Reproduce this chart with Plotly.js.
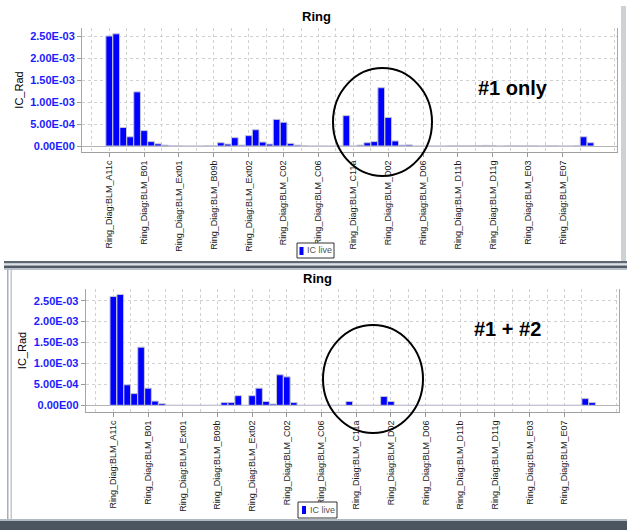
<!DOCTYPE html>
<html>
<head>
<meta charset="utf-8">
<script src="https://cdn.plot.ly/plotly-3.0.1.min.js"></script>
<style>html,body{margin:0;padding:0;background:#fff;}#chart{width:627px;height:530px;}</style>
</head>
<body>
<div id="chart"></div>
<script>
// ---- data ----
const chartTitle = "Ring";
const seriesName = "IC live";
const yAxisTitle = "IC_Rad";
const yTickValues = [0, 5e-4, 1e-3, 1.5e-3, 2e-3, 2.5e-3];
const yTickLabels = ["0.00E00", "5.00E-04", "1.00E-03", "1.50E-03", "2.00E-03", "2.50E-03"];
const xTickLabels = [
  "Ring_Diag:BLM_A11c", "Ring_Diag:BLM_B01", "Ring_Diag:BLM_Ext01", "Ring_Diag:BLM_B09b",
  "Ring_Diag:BLM_Ext02", "Ring_Diag:BLM_C02", "Ring_Diag:BLM_C06", "Ring_Diag:BLM_C11a",
  "Ring_Diag:BLM_D02", "Ring_Diag:BLM_D06", "Ring_Diag:BLM_D11b", "Ring_Diag:BLM_D11g",
  "Ring_Diag:BLM_E03", "Ring_Diag:BLM_E07"
];
const labelEvery = 5; // one labelled loss monitor out of five

// "#1 only" run
const run1Values = [
  2.50e-3, 2.55e-3, 0.42e-3, 0.21e-3, 1.23e-3, 0.35e-3, 0.10e-3, 0.05e-3, 0.02e-3, 0.005e-3,
  0.005e-3, 0, 0, 0, 0.005e-3, 0.005e-3, 0.075e-3, 0.045e-3, 0.19e-3, 0.02e-3,
  0.235e-3, 0.37e-3, 0.09e-3, 0.045e-3, 0.605e-3, 0.54e-3, 0.06e-3, 0.02e-3, 0.005e-3, 0,
  0, 0, 0, 0, 0.69e-3, 0, 0.02e-3, 0.075e-3, 0.10e-3, 1.325e-3,
  0.65e-3, 0.115e-3, 0.02e-3, 0.025e-3, 0, 0, 0, 0, 0, 0.005e-3,
  0.005e-3, 0.005e-3, 0.005e-3, 0.012e-3, 0.015e-3, 0.01e-3, 0, 0.005e-3, 0.005e-3, 0.005e-3,
  0.005e-3, 0.005e-3, 0, 0.005e-3, 0.005e-3, 0, 0, 0.005e-3, 0.21e-3, 0.075e-3
];
// "#1 + #2" run
const run2Values = [
  2.60e-3, 2.65e-3, 0.49e-3, 0.28e-3, 1.39e-3, 0.41e-3, 0.10e-3, 0.04e-3, 0, 0,
  0, 0, 0, 0, 0, 0, 0.065e-3, 0.065e-3, 0.23e-3, 0,
  0.23e-3, 0.41e-3, 0.09e-3, 0.03e-3, 0.73e-3, 0.68e-3, 0.065e-3, 0, 0, 0,
  0, 0, 0, 0, 0.09e-3, 0, 0, 0, 0, 0.21e-3,
  0.09e-3, 0, 0, 0, 0, 0, 0, 0, 0, 0,
  0, 0, 0, 0, 0, 0, 0, 0, 0, 0,
  0, 0, 0, 0, 0, 0, 0, 0, 0.16e-3, 0.065e-3
];
const panelNotes = ["#1 only", "#1 + #2"];

// ---- helpers ----
const W = 627, H = 530;
const px = x => x / W;
const py = y => 1 - y / H;
const idx = a => a.map((_, i) => i);
const majorVals = xTickLabels.map((_, i) => i * labelEvery);
const FONT = "Liberation Sans, Arial, sans-serif";

const barColor = "#0000ff";
function barTrace(vals, xa, ya) {
  return {
    type: "bar", x: idx(vals), y: vals, name: seriesName, xaxis: xa, yaxis: ya,
    showlegend: false,
    marker: { color: barColor, line: { color: "#c4c4d4", width: 1 } },
    hoverinfo: "y"
  };
}

function xAxis(dom, range, anchor) {
  return {
    domain: dom, range: range, anchor: anchor,
    tickmode: "array", tickvals: majorVals, ticktext: xTickLabels, tickangle: -90,
    tickfont: { family: FONT, size: 9, color: "#1a1a1a" },
    ticks: "outside", ticklen: 4, tickcolor: "#999",
    showgrid: true, gridcolor: "#d0d0d0", griddash: "dot", gridwidth: 1,
    minor: { tick0: -2.5, dtick: 5, showgrid: true, gridcolor: "#d0d0d0", griddash: "dot", ticks: "" },
    showline: true, linecolor: "#a0a0a0", linewidth: 1, zeroline: false, fixedrange: true
  };
}
function yAxis(dom, range, anchor) {
  return {
    domain: dom, range: range, anchor: anchor,
    tickmode: "array", tickvals: yTickValues, ticktext: yTickLabels,
    tickfont: { family: FONT, size: 11, color: "#1c1cff", weight: "bold" },
    ticks: "outside", ticklen: 4, tickcolor: "#999",
    showgrid: true, gridcolor: "#d0d0d0", griddash: "dot",
    zeroline: true, zerolinecolor: "#b4b4b4", zerolinewidth: 1,
    showline: true, mirror: true, linecolor: "#a8a8a8", linewidth: 1,
    title: { text: yAxisTitle, font: { family: FONT, size: 11, color: "#000" }, standoff: 4 },
    fixedrange: true
  };
}

const data = [barTrace(run1Values, "x", "y"), barTrace(run2Values, "x2", "y2")];

function rect(x0, y0, x1, y1, fill, line) {
  return { type: "rect", xref: "paper", yref: "paper", x0: px(x0), x1: px(x1), y0: py(y1), y1: py(y0),
           fillcolor: fill, line: line || { width: 0 }, layer: "above" };
}
function ellipse(x0, y0, x1, y1) {
  return { type: "circle", xref: "paper", yref: "paper", x0: px(x0), x1: px(x1), y0: py(y1), y1: py(y0),
           line: { color: "#000", width: 2 }, layer: "above" };
}
function text(t, x, y, size, opts) {
  return Object.assign({ text: t, xref: "paper", yref: "paper", x: px(x), y: py(y), showarrow: false,
    xanchor: "center", yanchor: "middle",
    font: { family: FONT, size: size, color: "#000" } }, opts || {});
}

const shapes = [
  // panel frames
  rect(621, 6, 626, 262, "#cdd2d7"),
  rect(4, 261, 627, 263.5, "#5d6874"),
  rect(4, 263.5, 627, 265.5, "#dde2e7"),
  rect(4, 265.5, 627, 268, "#4f5a66"),
  rect(4, 268, 627, 270, "#b9c1c9"),
  rect(7, 270, 8.5, 519, "#a6aeb6"),
  rect(10.5, 270, 12, 519, "#c2c8ce"),
  rect(0, 519, 627, 521, "#b0b8c0"),
  rect(0, 521, 627, 530, "#4a5560"),
  // legends
  rect(297, 243, 334, 258, "#ffffff", { color: "#333", width: 1 }),
  rect(299.5, 247, 303.5, 255, barColor),
  rect(298, 502, 337, 518, "#ffffff", { color: "#333", width: 1 }),
  rect(302, 506, 306, 514, barColor),
  // highlight ellipses
  ellipse(333, 68, 432, 176),
  ellipse(323, 325, 423, 433)
];

const boldFont = s => ({ family: FONT, size: s, color: "#000", weight: "bold" });
const annotations = [
  text(chartTitle, 316.5, 17, 13, { font: boldFont(13) }),
  text(chartTitle, 317.5, 278, 13, { font: boldFont(13) }),
  text(panelNotes[0], 513, 88, 20, { font: boldFont(20) }),
  text(panelNotes[1], 507, 329, 20, { font: boldFont(20) }),
  text(seriesName, 305, 250.5, 9, { xanchor: "left", font: { family: FONT, size: 9, color: "#555" } }),
  text(seriesName, 308, 510, 9, { xanchor: "left", font: { family: FONT, size: 9, color: "#555" } })
];

const layout = {
  width: W, height: H,
  margin: { l: 0, r: 0, t: 0, b: 0, pad: 0 },
  paper_bgcolor: "#ffffff", plot_bgcolor: "#ffffff",
  showlegend: false, bargap: 0.04,
  xaxis: xAxis([px(82), px(617)], [-3.9, 72.8], "y"),
  yaxis: yAxis([py(152), py(28)], [-1.36e-4, 2.682e-3], "x"),
  xaxis2: xAxis([px(85.7), px(619)], [-3.98, 72.87], "y2"),
  yaxis2: yAxis([py(412), py(289)], [-1.6e-4, 2.78e-3], "x2"),
  shapes: shapes,
  annotations: annotations
};

Plotly.newPlot("chart", data, layout, { staticPlot: true, displayModeBar: false });
</script>
</body>
</html>
